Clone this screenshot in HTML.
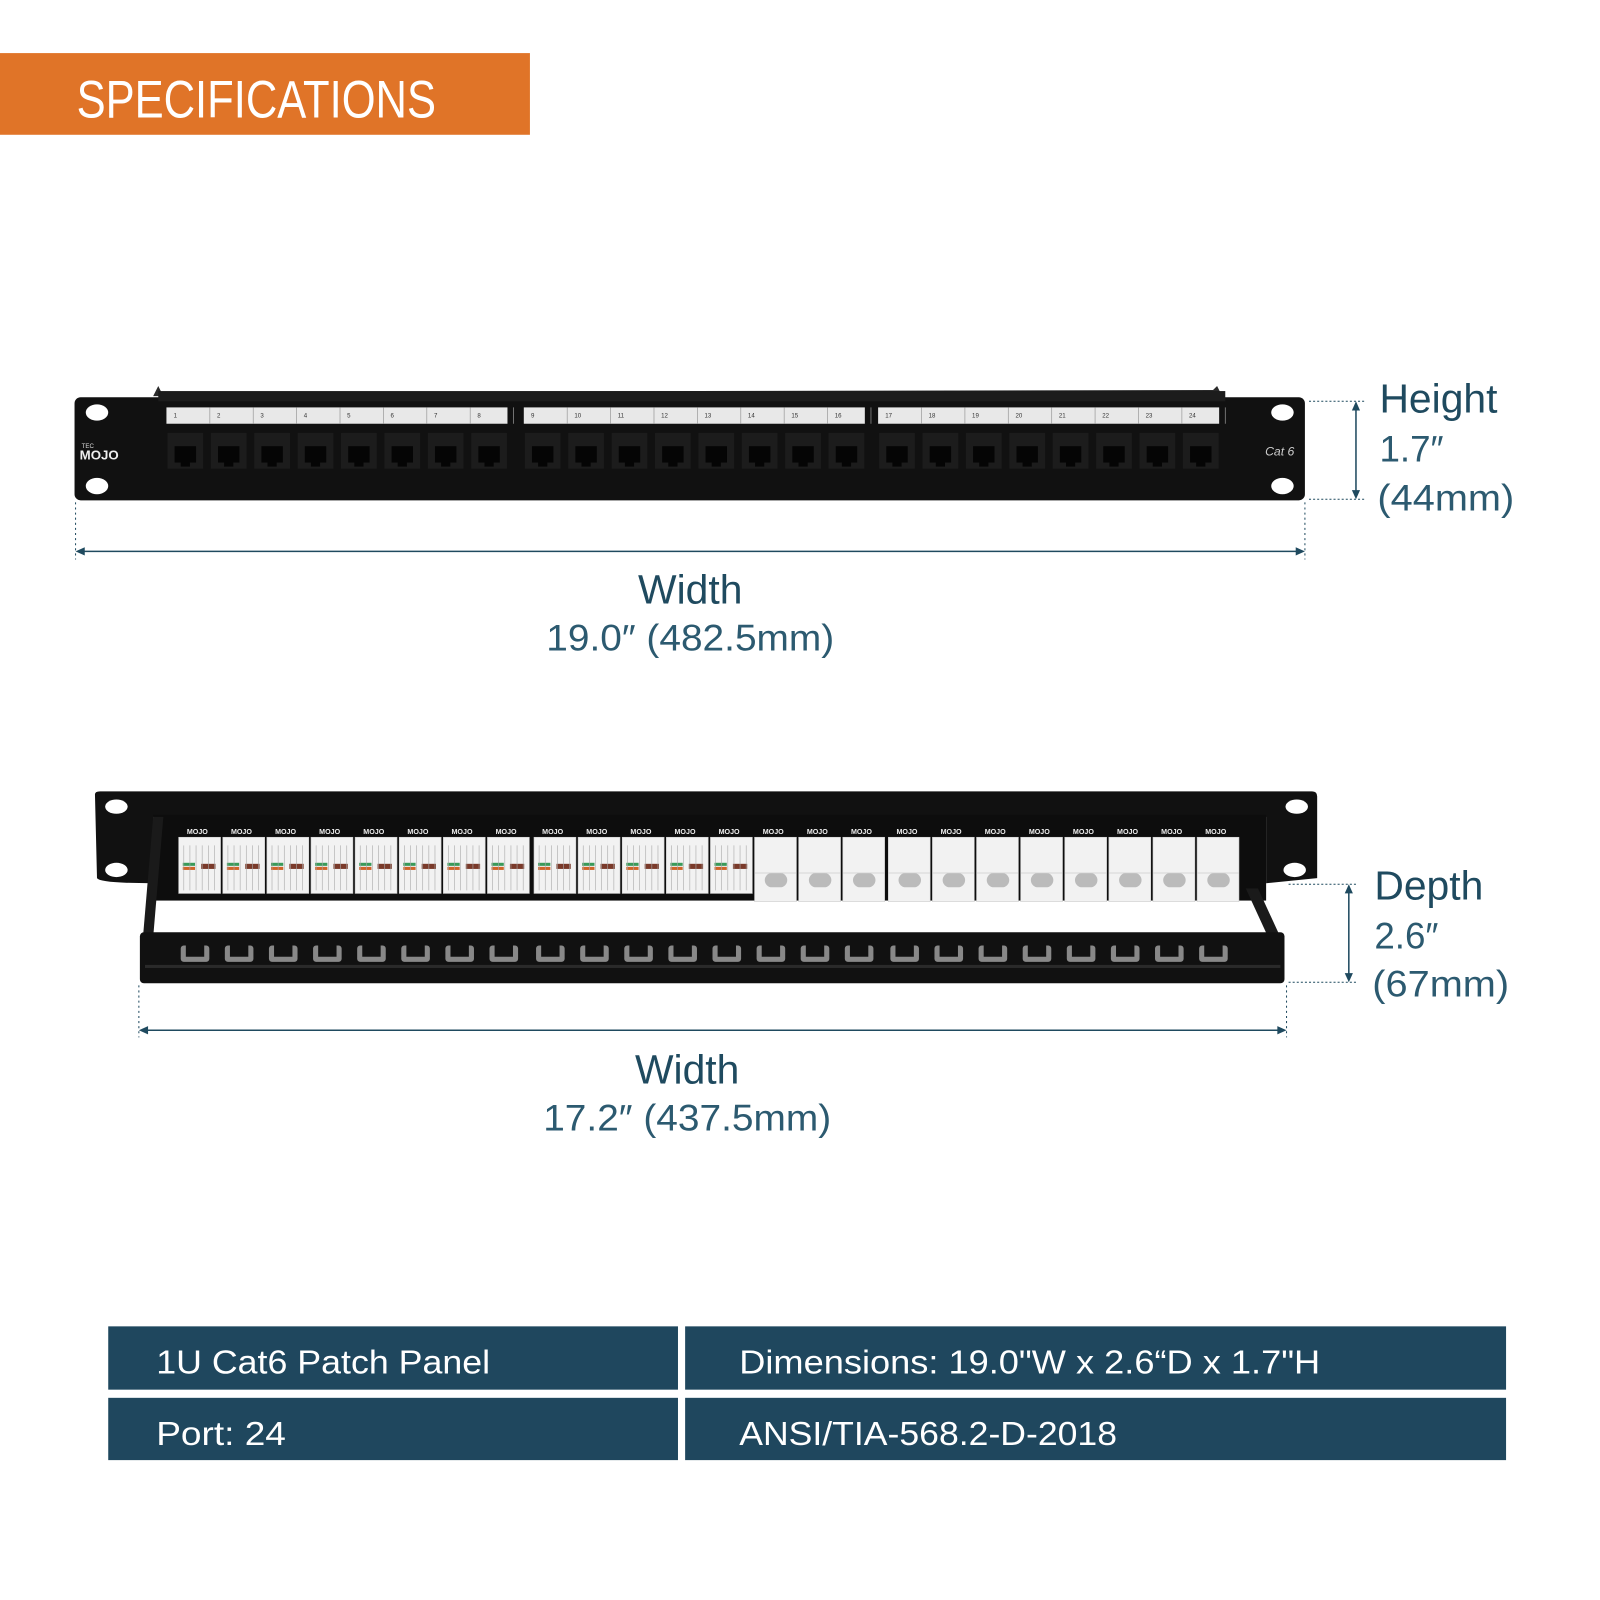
<!DOCTYPE html>
<html><head><meta charset="utf-8"><style>
html,body{margin:0;padding:0;background:#fff;width:1600px;height:1600px;overflow:hidden}
svg{display:block}
text{font-family:"Liberation Sans",sans-serif}
</style></head><body>
<svg id="s" width="1600" height="1600" viewBox="0 0 1567 1567" xmlns="http://www.w3.org/2000/svg">
<rect width="1567" height="1567" fill="#fff"/>
<!-- header -->
<rect x="0" y="52" width="519" height="80" fill="#e07428"/>
<text x="75" y="115" font-size="52" fill="#fff" textLength="352" lengthAdjust="spacingAndGlyphs">SPECIFICATIONS</text>

<!-- panel 1 -->
<path d="M150 388 L155 378 L158 384 L1188 382 L1192 378 L1198 390 Z" fill="#2a2a2a"/>
<rect x="73" y="389" width="1205" height="101" rx="6" fill="#111"/>
<rect x="155" y="383" width="1045" height="10" fill="#1c1c1c"/>
<ellipse cx="95" cy="404" rx="11" ry="8" fill="#fff"/>
<ellipse cx="95" cy="476" rx="11" ry="8" fill="#fff"/>
<ellipse cx="1256" cy="404" rx="11" ry="8" fill="#fff"/>
<ellipse cx="1256" cy="476" rx="11" ry="8" fill="#fff"/>
<text x="80" y="439" font-size="6" fill="#ddd">TEC</text>
<text x="78" y="450" font-size="13" font-weight="bold" fill="#eee">MOJO</text>
<text x="1239" y="446" font-size="12" font-style="italic" fill="#ccc">Cat 6</text>
<g id="p1"></g>
<g stroke="#1f4a5f" fill="none">
<line x1="1282" y1="393" x2="1336" y2="393" stroke-dasharray="2 2"/>
<line x1="1282" y1="489" x2="1336" y2="489" stroke-dasharray="2 2"/>
<line x1="1328" y1="397" x2="1328" y2="485" stroke-width="1.5"/>
<line x1="74" y1="492" x2="74" y2="548" stroke-dasharray="2 3"/>
<line x1="1278" y1="492" x2="1278" y2="548" stroke-dasharray="2 3"/>
<line x1="78" y1="540" x2="1274" y2="540" stroke-width="1.5"/>
</g>
<g fill="#1f4a5f">
<path d="M1328 393 l-4 9 h8z"/><path d="M1328 489 l-4 -9 h8z"/>
<path d="M74 540 l9 -4 v8z"/><path d="M1278 540 l-9 -4 v8z"/>
</g>
<g fill="#1f4a5f">
<text x="1351" y="404" font-size="40">Height</text>
<text x="1351" y="452" font-size="36" fill="#2c5a70">1.7″</text>
<text x="1349" y="500" font-size="36" fill="#2c5a70" textLength="134" lengthAdjust="spacingAndGlyphs">(44mm)</text>
<text x="676" y="591" font-size="40" text-anchor="middle">Width</text>
<text x="676" y="637" font-size="36" text-anchor="middle" fill="#2c5a70" textLength="282" lengthAdjust="spacingAndGlyphs">19.0″ (482.5mm)</text>
</g>

<!-- panel 2 -->
<path d="M93 778 Q93 775 98 775 L1285 775 Q1290 775 1290 780 L1290 860 L1240 865 L1240 800 L150 800 L150 865 Q98 865 95 860 Z" fill="#111"/>
<ellipse cx="114" cy="790" rx="11" ry="7" fill="#fff"/>
<ellipse cx="114" cy="852" rx="11" ry="7" fill="#fff"/>
<ellipse cx="1270" cy="790" rx="11" ry="7" fill="#fff"/>
<ellipse cx="1268" cy="852" rx="11" ry="7" fill="#fff"/>
<rect x="150" y="798" width="1090" height="84" fill="#0d0d0d"/>
<path d="M150 800 L160 800 L150 918 L140 918 Z" fill="#1a1a1a"/>
<path d="M1220 870 L1232 870 L1255 920 L1243 920 Z" fill="#1a1a1a"/>
<rect x="137" y="913" width="1121" height="50" rx="4" fill="#111"/>
<rect x="142" y="945" width="1112" height="3" fill="#2a2a2a"/>
<g id="p2"></g>
<g stroke="#1f4a5f" fill="none">
<line x1="1262" y1="866" x2="1330" y2="866" stroke-dasharray="2 2"/>
<line x1="1262" y1="962" x2="1330" y2="962" stroke-dasharray="2 2"/>
<line x1="1321" y1="870" x2="1321" y2="958" stroke-width="1.5"/>
<line x1="136" y1="965" x2="136" y2="1016" stroke-dasharray="2 3"/>
<line x1="1260" y1="965" x2="1260" y2="1016" stroke-dasharray="2 3"/>
<line x1="140" y1="1009" x2="1256" y2="1009" stroke-width="1.5"/>
</g>
<g fill="#1f4a5f">
<path d="M1321 866 l-4 9 h8z"/><path d="M1321 962 l-4 -9 h8z"/>
<path d="M136 1009 l9 -4 v8z"/><path d="M1260 1009 l-9 -4 v8z"/>
<text x="1346" y="881" font-size="40">Depth</text>
<text x="1346" y="929" font-size="36" fill="#2c5a70">2.6″</text>
<text x="1344" y="976" font-size="36" fill="#2c5a70" textLength="134" lengthAdjust="spacingAndGlyphs">(67mm)</text>
<text x="673" y="1061" font-size="40" text-anchor="middle">Width</text>
<text x="673" y="1107" font-size="36" text-anchor="middle" fill="#2c5a70" textLength="282" lengthAdjust="spacingAndGlyphs">17.2″ (437.5mm)</text>
</g>

<!-- table -->
<rect x="106" y="1299" width="558" height="62" fill="#1f475e"/>
<rect x="671" y="1299" width="804" height="62" fill="#1f475e"/>
<rect x="106" y="1369" width="558" height="61" fill="#1f475e"/>
<rect x="671" y="1369" width="804" height="61" fill="#1f475e"/>
<g fill="#fff" font-size="33">
<text x="153" y="1345" textLength="327" lengthAdjust="spacingAndGlyphs">1U Cat6 Patch Panel</text>
<text x="724" y="1345" textLength="569" lengthAdjust="spacingAndGlyphs">Dimensions: 19.0"W x 2.6“D x 1.7"H</text>
<text x="153" y="1415" textLength="127" lengthAdjust="spacingAndGlyphs">Port: 24</text>
<text x="724" y="1415" textLength="370" lengthAdjust="spacingAndGlyphs">ANSI/TIA-568.2-D-2018</text>
</g>
</svg>
<script>
var NS="http://www.w3.org/2000/svg";
function el(p,t,a,txt){var e=document.createElementNS(NS,t);for(var k in a)e.setAttribute(k,a[k]);if(txt)e.textContent=txt;p.appendChild(e);return e;}
var p1=document.getElementById("p1");
var gx=[163,513,860];
for(var g=0;g<3;g++){
 el(p1,"rect",{x:gx[g],y:399,width:334,height:16,fill:"#e8e8e8"});
 for(var i=0;i<8;i++){
  var x=gx[g]+i*42.5;var n=g*8+i+1;
  el(p1,"line",{x1:x+42.5,y1:399,x2:x+42.5,y2:415,stroke:"#999","stroke-width":0.7});
  el(p1,"text",{x:x+7,y:409,"font-size":6,fill:"#333"},""+n);
  el(p1,"rect",{x:x+1,y:424,width:35,height:35,fill:"#1c1c1c"});
  el(p1,"rect",{x:x+8,y:437,width:21,height:16,fill:"#050505"});
  el(p1,"rect",{x:x+14,y:453,width:9,height:4,fill:"#050505"});
 }
}
var p2=document.getElementById("p2");
for(var i=0;i<24;i++){
 var g=Math.floor(i/8);var x=[175,523,870][g]+(i%8)*43.2;
 el(p2,"text",{x:x+8,y:817,"font-size":7,"font-weight":"bold",fill:"#eee"},"MOJO");
 el(p2,"rect",{x:x,y:820,width:41,height:i<13?55:63,fill:"#f2f2f2",stroke:"#ccc","stroke-width":0.6});
 if(i<13){
  el(p2,"rect",{x:x+4,y:845,width:12,height:3,fill:"#3a9a5a"});
  el(p2,"rect",{x:x+4,y:849,width:12,height:3,fill:"#d0642a"});
  el(p2,"rect",{x:x+22,y:846,width:14,height:5,fill:"#7a3a2a"});
  for(var k=0;k<6;k++)el(p2,"line",{x1:x+5+k*6,y1:828,x2:x+5+k*6,y2:872,stroke:"#aaa","stroke-width":0.6});
 } else {
  el(p2,"rect",{x:x+10,y:855,width:22,height:14,rx:7,fill:"#bbb"});
  el(p2,"line",{x1:x,y1:855,x2:x+41,y2:855,stroke:"#ccc","stroke-width":0.8});
 }
 el(p2,"rect",{x:x+2,y:926,width:28,height:16,rx:3,fill:"#888"});
 el(p2,"rect",{x:x+7,y:926,width:18,height:11,fill:"#111"});
}
</script>
</body></html>
